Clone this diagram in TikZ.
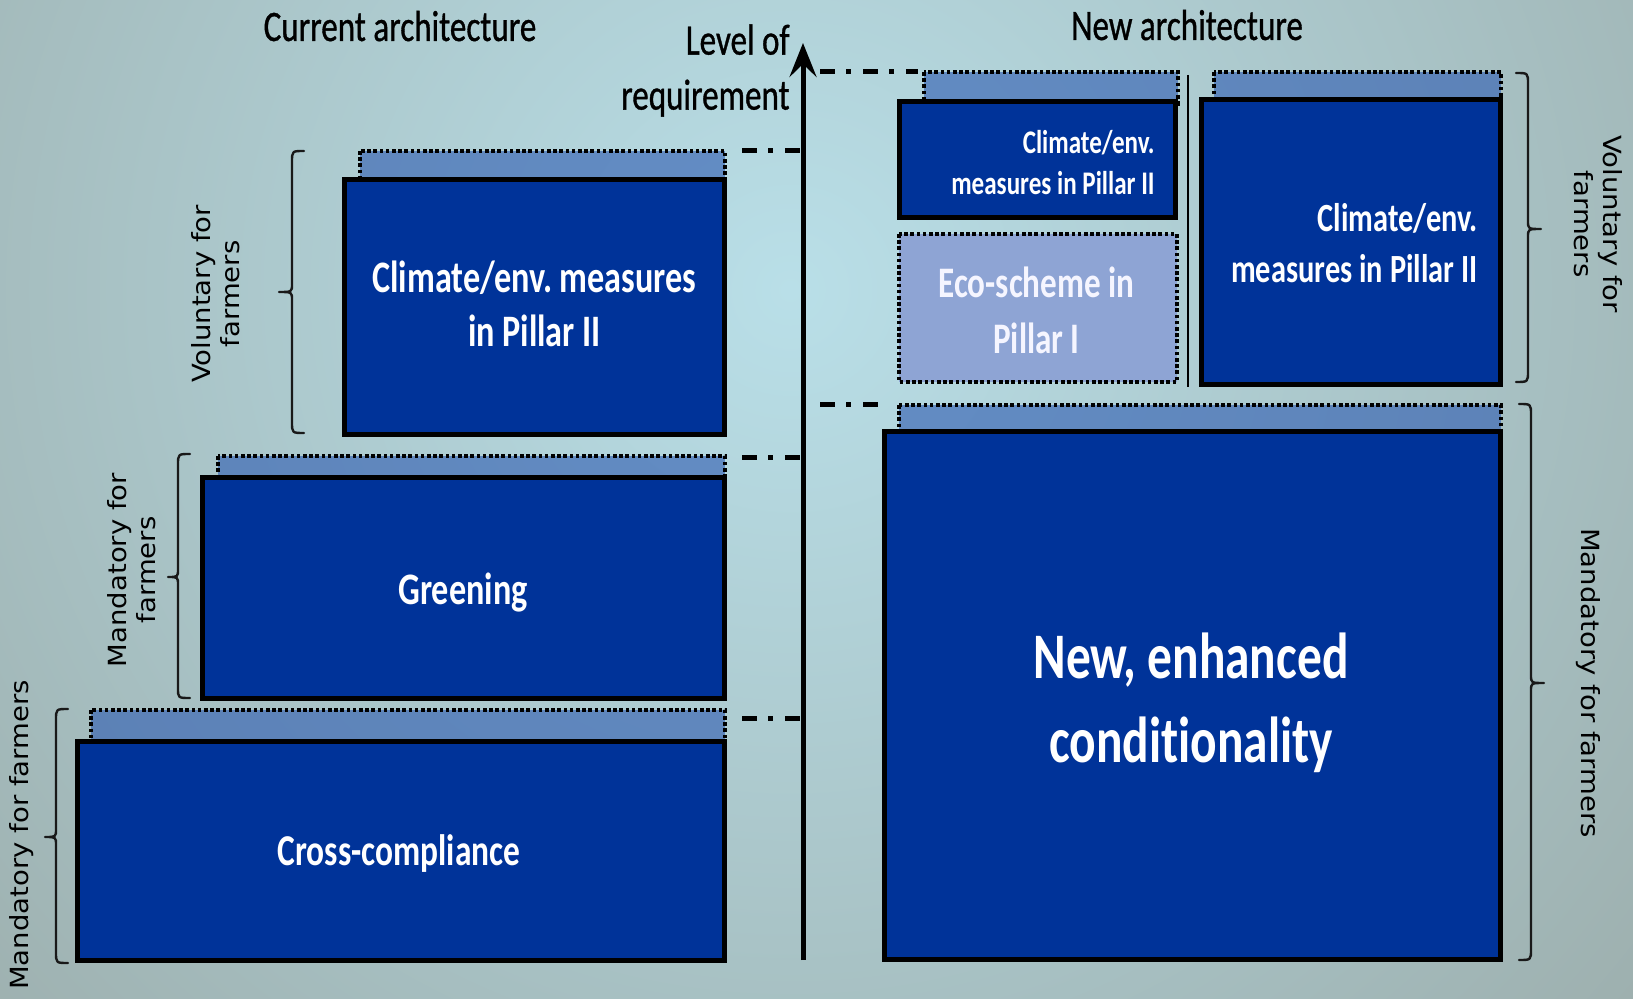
\documentclass[tikz,border=0pt]{standalone}
\usepackage{fontspec}
\setmainfont{Carlito}
\newfontfamily\calfont[FakeStretch=0.76,Ligatures=NoCommon]{Carlito}
\newfontfamily\calheavy[FakeStretch=0.76,FakeBold=0.8,Ligatures=NoCommon]{Carlito}
\newfontfamily\dvfont[FakeStretch=1.1]{DejaVu Sans}
\usetikzlibrary{arrows.meta}
\definecolor{boxblue}{HTML}{003399}
\definecolor{stripblue}{HTML}{3461B3}
\definecolor{ecoblue}{HTML}{8EA4D4}
\definecolor{bginner}{HTML}{B9DFE8}
\definecolor{bgouter}{HTML}{8B9088}
\tikzset{
  bluebox/.style={draw=black, line width=2.5pt, fill=boxblue},
  strip/.style={draw=black, line width=2.4pt, dash pattern=on 1.8pt off 1.3pt, fill=stripblue, fill opacity=0.64},
  ecobox/.style={draw=black, line width=2.4pt, dash pattern=on 1.8pt off 1.3pt, fill=ecoblue},
  level/.style={draw=black, line width=2.5pt, dash pattern=on 7.5pt off 5.5pt on 2.5pt off 6pt},
  brace/.style={draw=black!90, line width=1.2pt, line cap=round, line join=round},
  titletext/.style={font=\calheavy\fontsize{21.75}{27.5}\selectfont, inner sep=0pt, text=black},
  boxtext/.style={inner sep=0pt, text=white},
  sidetext/.style={font=\dvfont\fontsize{12.5}{14.5}\selectfont, inner sep=0pt, text=black, align=center}
}
\frenchspacing
\begin{document}
\begin{tikzpicture}[x=0.5pt, y=-0.5pt]
\useasboundingbox (0,0) rectangle (1633,999);
% background
\begin{scope}
  \clip (0,0) rectangle (1633,999);
  \shade[inner color=bginner, outer color=bgouter] (790,290) circle (1850);
\end{scope}

% ---- current architecture ----
\path[strip] (91,710) rectangle (725,745);
\path[bluebox] (77.5,741.5) rectangle (724.5,960.5);
\path[strip] (218,456) rectangle (725,480);
\path[bluebox] (202.5,477.5) rectangle (724.5,698.5);
\path[strip] (360,151) rectangle (725,182);
\path[bluebox] (344.5,179.5) rectangle (724.5,434.5);

% ---- new architecture ----
\path[strip] (924,72) rectangle (1178,104);
\path[bluebox] (899.5,101.5) rectangle (1175.5,217.5);
\path[ecobox] (899,234) rectangle (1177,382);
\path[strip] (1214,72) rectangle (1501,102);
\path[bluebox] (1201.5,99.5) rectangle (1500.5,384.5);
\path[strip] (899,405) rectangle (1501,434);
\path[bluebox] (884.5,431.5) rectangle (1500.5,959.5);
\draw[line width=1.3pt] (1188,75) -- (1188,387);

% axis
\coordinate (axb) at (803,960);
\coordinate (axt) at (803,43);
\draw[line width=2.5pt, -{Stealth[length=17pt, width=13.5pt, inset=6.5pt]}] (axb) -- (axt);

% level markers
\coordinate (l1a) at (742,151); \coordinate (l1b) at (803,151);
\coordinate (l2a) at (742,458); \coordinate (l2b) at (803,458);
\coordinate (l3a) at (742,718); \coordinate (l3b) at (803,718);
\coordinate (r1a) at (820,72);  \coordinate (r1b) at (918,72);
\coordinate (r2a) at (820,405); \coordinate (r2b) at (888,405);
\draw[level] (l1a) -- (l1b);
\draw[level] (l2a) -- (l2b);
\draw[level] (l3a) -- (l3b);
\draw[level] (r1a) -- (r1b);
\draw[level] (r2a) -- (r2b);

% braces (left side, opening right)
\draw[brace] (304,151) .. controls (292,151) .. (292,162) -- (292,284) .. controls (292,292) .. (279,292) .. controls (292,292) .. (292,300) -- (292,422) .. controls (292,433) .. (304,433);
\draw[brace] (190,454) .. controls (178,454) .. (178,465) -- (178,569) .. controls (178,577) .. (168,577) .. controls (178,577) .. (178,585) -- (178,688) .. controls (178,698) .. (190,698);
\draw[brace] (68,709) .. controls (56,709) .. (56,720) -- (56,829) .. controls (56,837) .. (45,837) .. controls (56,837) .. (56,845) -- (56,952) .. controls (56,963) .. (68,963);
% braces (right side, opening left)
\draw[brace] (1516,73) .. controls (1528,73) .. (1528,84) -- (1528,221) .. controls (1528,229) .. (1541,229) .. controls (1528,229) .. (1528,237) -- (1528,371) .. controls (1528,382) .. (1516,382);
\draw[brace] (1519,404) .. controls (1531,404) .. (1531,415) -- (1531,675) .. controls (1531,683) .. (1544,683) .. controls (1531,683) .. (1531,691) -- (1531,949) .. controls (1531,960) .. (1519,960);

% titles
\node[titletext, anchor=base] (tcur) at (400,41) {Current architecture};
\node[titletext, anchor=base] (tnew) at (1187,40) {New architecture};
\node[titletext, anchor=east, align=right] (tlev) at (790,70.5) {Level of\\requirement};

% box texts
\node[boxtext, font=\calfont\bfseries\fontsize{22.5}{27}\selectfont, align=center] (tA) at (534.5,304) {Climate/env. measures\\in Pillar II};
\node[boxtext, font=\calfont\bfseries\fontsize{22.5}{27}\selectfont, anchor=base] (tB) at (463,604) {Greening};
\node[boxtext, font=\calfont\bfseries\fontsize{22}{27}\selectfont, anchor=base] (tC) at (399,865) {Cross-compliance};
\node[boxtext, font=\calfont\bfseries\fontsize{16.5}{20.5}\selectfont, anchor=east, align=right] (tD) at (1155,163) {Climate/env.\\measures in Pillar II};
\node[boxtext, font=\calfont\bfseries\fontsize{21.8}{28}\selectfont, align=center, text=white!96!blue] (tE) at (1036.5,310) {Eco-scheme in\\Pillar I};
\node[boxtext, font=\calfont\bfseries\fontsize{20}{25.5}\selectfont, anchor=east, align=right] (tF) at (1478,243) {Climate/env.\\measures in Pillar II};
\node[boxtext, font=\calfont\bfseries\fontsize{32.5}{42}\selectfont, align=center] (tG) at (1191,703) {New, enhanced\\conditionality};

% side labels
\node[sidetext, rotate=90] (sA) at (216,294) {Voluntary for\\farmers};
\node[sidetext, rotate=90] (sB) at (132,570) {Mandatory for\\farmers};
\node[sidetext, rotate=90] (sC) at (22,835) {Mandatory for farmers};
\node[sidetext, rotate=-90] (sD) at (1598,224) {Voluntary for\\farmers};
\node[sidetext, rotate=-90] (sE) at (1588,683) {Mandatory for farmers};
\end{tikzpicture}
\end{document}
